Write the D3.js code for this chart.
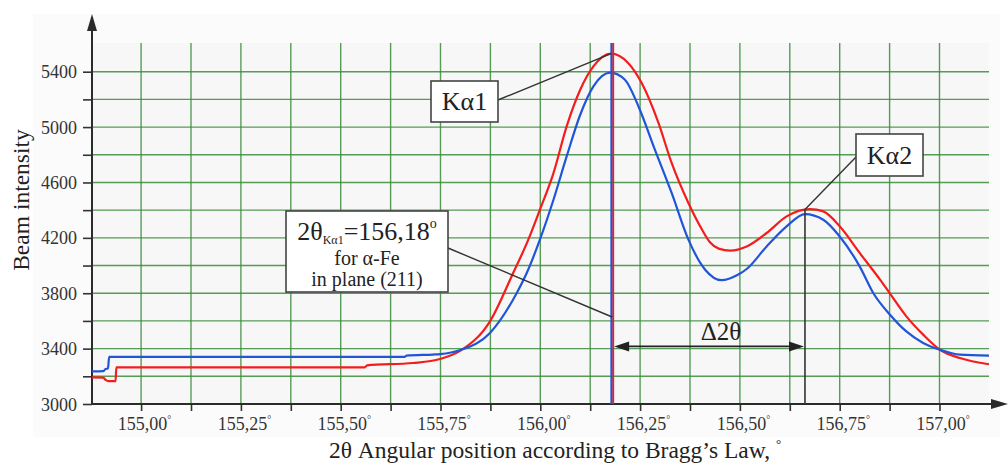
<!DOCTYPE html>
<html>
<head>
<meta charset="utf-8">
<script src="https://cdnjs.cloudflare.com/ajax/libs/d3/7.8.5/d3.min.js"></script>
<style>
  body { margin: 0; background: #fff; }
  svg { display: block; font-family: "Liberation Serif", "Times New Roman", serif; }
  svg text { font-family: "Liberation Serif", "Times New Roman", serif; }
</style>
</head>
<body>
<svg id="chart" width="1008" height="466"></svg>
<script>
// Beam intensity vs 2θ, two measured profiles
var redSeries = [
    [154.877, 3192], [154.905, 3191], [154.912, 3172], [154.918, 3165], [154.936, 3165],
    [154.938, 3264], [155.560, 3265], [155.566, 3279], [155.681, 3296], [155.749, 3325],
    [155.800, 3385], [155.874, 3597], [155.932, 3946], [155.970, 4187], [155.999, 4403],
    [156.033, 4668], [156.066, 5005], [156.100, 5270], [156.133, 5438], [156.177, 5530],
    [156.220, 5463], [156.254, 5318], [156.296, 5030], [156.329, 4741], [156.371, 4452],
    [156.405, 4260], [156.425, 4168], [156.447, 4122], [156.476, 4108], [156.517, 4138],
    [156.567, 4235], [156.617, 4355], [156.675, 4408], [156.709, 4391], [156.750, 4283],
    [156.800, 4091], [156.851, 3898], [156.876, 3797], [156.917, 3633], [156.959, 3501],
    [157.001, 3392], [157.051, 3332], [157.124, 3287]
];
var blueSeries = [
    [154.877, 3235], [154.905, 3237], [154.911, 3253], [154.917, 3256], [154.920, 3340],
    [155.660, 3340], [155.665, 3349], [155.731, 3357], [155.749, 3360], [155.800, 3390],
    [155.874, 3513], [155.941, 3802], [155.966, 3946], [155.999, 4187], [156.033, 4475],
    [156.066, 4788], [156.100, 5089], [156.133, 5294], [156.175, 5393], [156.212, 5342],
    [156.246, 5149], [156.287, 4837], [156.329, 4524], [156.371, 4187], [156.413, 3970],
    [156.454, 3894], [156.496, 3935], [156.517, 3975], [156.567, 4138], [156.617, 4283],
    [156.663, 4372], [156.709, 4331], [156.750, 4210], [156.800, 3994], [156.834, 3802],
    [156.876, 3645], [156.917, 3524], [156.959, 3441], [157.001, 3392], [157.051, 3356],
    [157.124, 3349]
];
var xTicks = d3.range(0, 17).map(function (i) { return 155 + i * 0.125; });
var yTicks = d3.range(0, 13).map(function (i) { return 3000 + i * 200; });
var xLabels = [155.00, 155.25, 155.50, 155.75, 156.00, 156.25, 156.50, 156.75, 157.00];
var yLabels = [3000, 3400, 3800, 4200, 4600, 5000, 5400];

var peakKa1 = [156.18, 5530];   // 2θ of Kα1 and red peak
var peakKa2 = [156.663, 4405];  // 2θ of Kα2
var deltaArrowY = 3416;

var FONT = '"Liberation Serif", "Times New Roman", serif';
var svg = d3.select('#chart');
var x = d3.scaleLinear().domain([154.877, 157.124]).range([92, 989]);
var y = d3.scaleLinear().domain([3000, 5600]).range([404, 44]);

// backgrounds
svg.append('rect').attr('x', 33).attr('y', 14).attr('width', 967).attr('height', 423)
    .attr('fill', '#fbfbfb');
svg.append('rect').attr('x', x.range()[0]).attr('y', 43)
    .attr('width', x.range()[1] - x.range()[0]).attr('height', y(3000) - 43)
    .attr('fill', '#f7f7f7');

// grid
var grid = svg.append('g').attr('stroke', '#3a8c3a').attr('stroke-width', 1.4).attr('stroke-opacity', 0.85);
grid.selectAll('line.v').data(xTicks).enter().append('line')
    .attr('x1', function (d) { return x(d); }).attr('x2', function (d) { return x(d); })
    .attr('y1', 43).attr('y2', y(3000));
grid.selectAll('line.h').data(yTicks.filter(function (d) { return d > 3000; })).enter().append('line')
    .attr('y1', function (d) { return y(d); }).attr('y2', function (d) { return y(d); })
    .attr('x1', x.range()[0]).attr('x2', x.range()[1]);

function fmtX(d) { return d3.format('.2f')(d).replace('.', ','); }
function inList(list, d) { return list.some(function (v) { return Math.abs(v - d) < 1e-6; }); }

// x axis
var xAxis = d3.axisBottom(x).tickValues(xTicks).tickSizeInner(7).tickSizeOuter(0)
    .tickFormat(function (d) { return inList(xLabels, d) ? fmtX(d) : ''; });
var gx = svg.append('g').attr('transform', 'translate(0,' + y(3000) + ')').call(xAxis)
    .attr('font-family', FONT);
gx.select('.domain').remove();
gx.selectAll('.tick line').attr('stroke', '#333').attr('stroke-width', 1.6);
gx.selectAll('.tick text')
    .attr('fill', '#333').attr('font-size', 18).attr('y', 26).attr('dy', 0).attr('dx', 3)
    .each(function (d) {
        if (!inList(xLabels, d)) return;
        d3.select(this).append('tspan').text('°').attr('font-size', 10).attr('dy', '-0.75em');
    });

// y axis
var yAxis = d3.axisLeft(y).tickValues(yTicks).tickSizeInner(9).tickSizeOuter(0).tickPadding(6)
    .tickFormat(function (d) { return inList(yLabels, d) ? d : ''; });
var gy = svg.append('g').attr('transform', 'translate(' + x.range()[0] + ',0)').call(yAxis)
    .attr('font-family', FONT);
gy.select('.domain').remove();
gy.selectAll('.tick line').attr('stroke', '#333').attr('stroke-width', 1.6);
gy.selectAll('.tick text').attr('fill', '#333').attr('font-size', 18).attr('dy', '0.34em');

// axis lines with arrows
var axisColor = '#2b2b2b';
svg.append('line').attr('x1', 92).attr('x2', 92).attr('y1', y(3000) + 1).attr('y2', 24)
    .attr('stroke', axisColor).attr('stroke-width', 2);
svg.append('path').attr('d', 'M92,14 L87,31 L97,31 Z').attr('fill', axisColor);
svg.append('line').attr('x1', 91).attr('x2', 998).attr('y1', y(3000)).attr('y2', y(3000))
    .attr('stroke', axisColor).attr('stroke-width', 2);
svg.append('path').attr('d', 'M1008,' + y(3000) + ' L991,' + (y(3000) - 5) + ' L991,' + (y(3000) + 5) + ' Z')
    .attr('fill', axisColor);

// axis titles
svg.append('text').attr('transform', 'translate(29,200) rotate(-90)').attr('text-anchor', 'middle')
    .attr('font-size', 23.5).attr('fill', '#222').text('Beam intensity');
var xt = svg.append('text').attr('x', 555).attr('y', 458).attr('text-anchor', 'middle')
    .attr('font-size', 23.5).attr('fill', '#222');
xt.append('tspan').text('2θ Angular position according to Bragg’s Law, ');
xt.append('tspan').text('°').attr('font-size', 13).attr('dy', '-0.8em');

// curves
var line = d3.line().x(function (d) { return x(d[0]); }).y(function (d) { return y(d[1]); })
    .curve(d3.curveMonotoneX);
svg.append('path').datum(redSeries).attr('d', line).attr('fill', 'none')
    .attr('stroke', '#f41d1d').attr('stroke-width', 2.2);
svg.append('path').datum(blueSeries).attr('d', line).attr('fill', 'none')
    .attr('stroke', '#2155d8').attr('stroke-width', 2.2);

// Kα1 position line (red + blue)
svg.append('line').attr('x1', x(peakKa1[0]) + 1).attr('x2', x(peakKa1[0]) + 1)
    .attr('y1', 43).attr('y2', y(3000)).attr('stroke', '#f41d1d').attr('stroke-width', 2);
svg.append('line').attr('x1', x(peakKa1[0]) - 0.8).attr('x2', x(peakKa1[0]) - 0.8)
    .attr('y1', 43).attr('y2', y(3000)).attr('stroke', '#2155d8').attr('stroke-width', 2);

// Kα2 position line
svg.append('line').attr('x1', x(peakKa2[0])).attr('x2', x(peakKa2[0]))
    .attr('y1', y(peakKa2[1])).attr('y2', y(3000)).attr('stroke', '#333').attr('stroke-width', 1.6);

// Δ2θ arrow
var ay = y(deltaArrowY), ax1 = x(peakKa1[0]) + 2, ax2 = x(peakKa2[0]) - 1;
svg.append('line').attr('x1', ax1 + 6).attr('x2', ax2 - 6).attr('y1', ay).attr('y2', ay)
    .attr('stroke', '#222').attr('stroke-width', 1.8);
svg.append('path').attr('d', 'M' + ax1 + ',' + ay + ' L' + (ax1 + 15) + ',' + (ay - 5) + ' L' + (ax1 + 15) + ',' + (ay + 5) + ' Z')
    .attr('fill', '#222');
svg.append('path').attr('d', 'M' + ax2 + ',' + ay + ' L' + (ax2 - 15) + ',' + (ay - 5) + ' L' + (ax2 - 15) + ',' + (ay + 5) + ' Z')
    .attr('fill', '#222');
svg.append('text').attr('x', (ax1 + ax2) / 2 + 12).attr('y', ay - 6).attr('text-anchor', 'middle')
    .attr('font-size', 25).attr('fill', '#222').text('Δ2θ');

// annotation boxes
function box(x0, y0, w, h) {
    svg.append('rect').attr('x', x0).attr('y', y0).attr('width', w).attr('height', h)
        .attr('fill', '#fff').attr('stroke', '#444').attr('stroke-width', 1.6);
}
function leader(x1, y1, x2, y2) {
    svg.append('line').attr('x1', x1).attr('y1', y1).attr('x2', x2).attr('y2', y2)
        .attr('stroke', '#333').attr('stroke-width', 1.4);
}

leader(498, 100, x(156.177), y(peakKa1[1]));
box(431, 81, 67, 41);
svg.append('text').attr('x', 464.5).attr('y', 110).attr('text-anchor', 'middle')
    .attr('font-size', 26).attr('fill', '#222').text('Kα1');

leader(856, 157, x(peakKa2[0]), y(peakKa2[1]));
box(856, 134, 67, 42);
svg.append('text').attr('x', 889.5).attr('y', 164).attr('text-anchor', 'middle')
    .attr('font-size', 26).attr('fill', '#222').text('Kα2');

leader(448, 248, x(peakKa1[0]), 317);
box(286, 211, 162, 81);
var t1 = svg.append('text').attr('x', 367).attr('y', 240).attr('text-anchor', 'middle')
    .attr('font-size', 26).attr('fill', '#222');
t1.append('tspan').text('2θ');
t1.append('tspan').text('Kα1').attr('font-size', 12).attr('dy', '4');
t1.append('tspan').text('=156,18').attr('dy', '-4');
t1.append('tspan').text('o').attr('font-size', 14).attr('dy', '-12');
svg.append('text').attr('x', 367).attr('y', 265).attr('text-anchor', 'middle')
    .attr('font-size', 20).attr('fill', '#222').text('for α-Fe');
svg.append('text').attr('x', 367).attr('y', 286).attr('text-anchor', 'middle')
    .attr('font-size', 20).attr('fill', '#222').text('in plane (211)');
</script>
</body>
</html>
